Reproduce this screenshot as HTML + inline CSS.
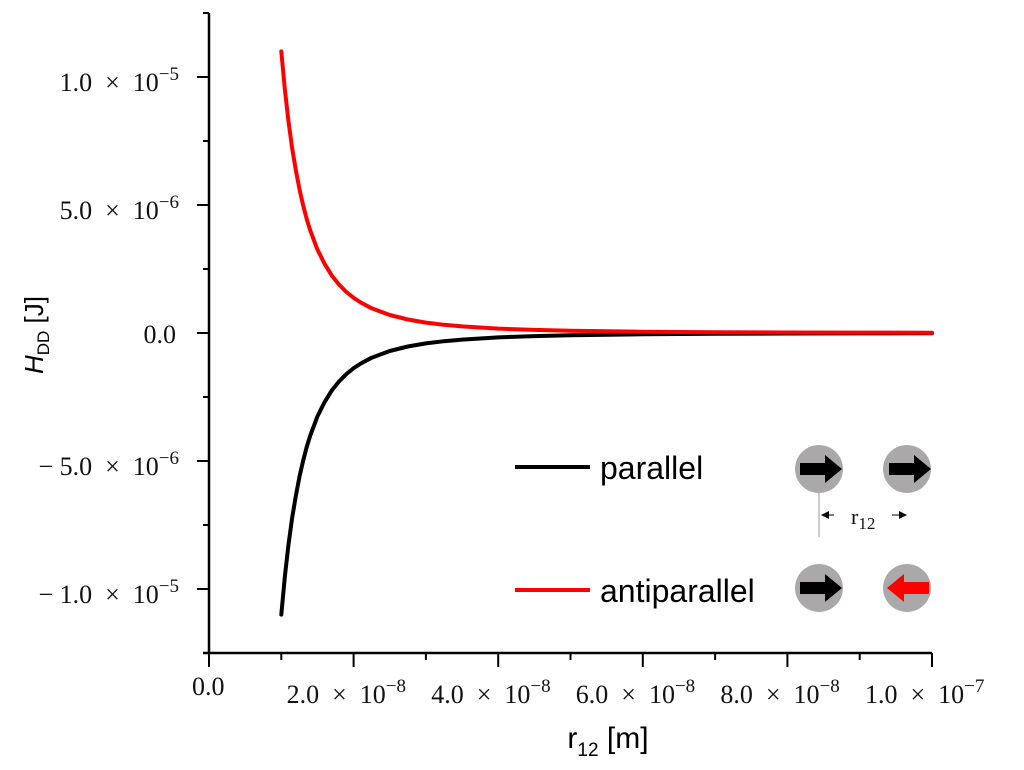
<!DOCTYPE html>
<html><head><meta charset="utf-8"><style>
body{margin:0;background:#fff}
svg{display:block}
.tk{font-family:"Liberation Serif",serif;font-size:26px;fill:#111}
.lg{font-family:"Liberation Sans",sans-serif;font-size:32px;fill:#000}
</style></head><body>
<svg id="chart" width="1024" height="770" xmlns="http://www.w3.org/2000/svg">
<g id="axes"></g>
<g id="series"></g>
<text x="0" y="0" transform="translate(43,335) rotate(-90)" text-anchor="middle" class="lg" style="font-size:26px"><tspan font-style="italic">H</tspan><tspan font-size="17" dy="6">DD</tspan><tspan dy="-6"> [J]</tspan></text>
<text x="608" y="748" text-anchor="middle" class="lg" style="font-size:30px">r<tspan font-size="19" dy="8">12</tspan><tspan dy="-8"> [m]</tspan></text>
<g>
<line x1="515" y1="467" x2="590" y2="467" stroke="#000" stroke-width="4"/>
<text x="600" y="479" class="lg">parallel</text>
<line x1="515" y1="590" x2="590" y2="590" stroke="#f00" stroke-width="4"/>
<text x="600" y="602" class="lg">antiparallel</text>
</g>
<g>
<circle cx="819" cy="469" r="24" fill="#aaa8a8"/>
<circle cx="907" cy="469" r="24" fill="#aaa8a8"/>
<circle cx="819" cy="588" r="24" fill="#aaa8a8"/>
<circle cx="907" cy="588" r="24" fill="#aaa8a8"/>
<polygon points="800,463 825,463 825,455 842,469 825,483 825,475 800,475" fill="#000"/>
<polygon points="889,463 914,463 914,455 931,469 914,483 914,475 889,475" fill="#000"/>
<polygon points="800,582 825,582 825,574 842,588 825,602 825,594 800,594" fill="#000"/>
<polygon points="929,582 904,582 904,574 887,588 904,602 904,594 929,594" fill="#f00"/>
<line x1="819" y1="493" x2="819" y2="537" stroke="#999" stroke-width="1"/>
<polygon points="821,515 829,511 829,519" fill="#000"/><line x1="827" y1="515" x2="834" y2="515" stroke="#000"/>
<polygon points="907,515 899,511 899,519" fill="#000"/><line x1="892" y1="515" x2="900" y2="515" stroke="#000"/>
<text x="851" y="524" class="tk" style="font-size:22px">r<tspan font-size="17" dy="5">12</tspan></text>
</g>
</svg>
<script>
const rValues=[1,1.05,1.1,1.15,1.2,1.25,1.3,1.35,1.4,1.5,1.6,1.7,1.8,1.9,2.0,2.1,2.25,2.5,2.75,3,3.25,3.5,4,4.5,5,6,7,8,9,10];
const antiparallelValues=[11.0,9.50,8.26,7.23,6.37,5.63,5.01,4.47,4.01,3.26,2.69,2.24,1.89,1.60,1.375,1.19,0.966,0.704,0.529,0.407,0.320,0.257,0.172,0.121,0.088,0.051,0.032,0.021,0.015,0.011];
const parallelValues=[-11.0,-9.50,-8.26,-7.23,-6.37,-5.63,-5.01,-4.47,-4.01,-3.26,-2.69,-2.24,-1.89,-1.60,-1.375,-1.19,-0.966,-0.704,-0.529,-0.407,-0.320,-0.257,-0.172,-0.121,-0.088,-0.051,-0.032,-0.021,-0.015,-0.011];
const xTickValues=[0,2,4,6,8,10];
const xTickLabels=["0.0","2.0","4.0","6.0","8.0","1.0"];
const xTickExps=["","−8","−8","−8","−8","−7"];
const yTickValues=[10,5,0,-5,-10];
const yTickLabels=["1.0","5.0","0.0","−\u00a05.0","−\u00a01.0"];
const yTickExps=["−5","−6","","−6","−5"];
const NS="http://www.w3.org/2000/svg";
const SEP="\u00a0\u00a0×\u00a0\u00a010";
const X=v=>209+v*72.3;
const Y=v=>333-v*25.6;
const axes=document.getElementById('axes'),series=document.getElementById('series');
function mk(tag,attrs,parent){const e=document.createElementNS(NS,tag);for(const k in attrs)e.setAttribute(k,attrs[k]);parent.appendChild(e);return e;}
let e=mk('line',{x1:209,y1:Y(12.5),x2:209,y2:Y(-12.5),stroke:'#000','stroke-width':2.5},axes);


e=mk('line',{x1:203,y1:Y(-12.5),x2:X(10),y2:Y(-12.5),stroke:'#000','stroke-width':2.5},axes);


for(let v=-12.5;v<=12.51;v+=2.5){const major=Math.abs(v%5)<0.01;mk('line',{x1:major?197:203,y1:Y(v),x2:209,y2:Y(v),stroke:'#000','stroke-width':2},axes);}
for(let v=0;v<=10.01;v+=1){const major=Math.abs(v%2)<0.01;mk('line',{x1:X(v),y1:Y(-12.5),x2:X(v),y2:Y(-12.5)+(major?14:7),stroke:'#000','stroke-width':2},axes);}
xTickValues.forEach((v,i)=>{const t=mk('text',{x:v===0?X(v)-17:X(v)-67,y:v===0?695:703,class:'tk'},axes);


t.textContent=xTickLabels[i]+(xTickExps[i]?SEP:'');
if(xTickExps[i]){const s=mk('tspan',{dy:-11,'font-size':19},t);s.textContent=xTickExps[i];}});
yTickValues.forEach((v,i)=>{const t=mk('text',{x:v===0?176:179,y:Y(v)+(v===0?10:14),class:'tk','text-anchor':'end'},axes);


t.textContent=yTickLabels[i]+(yTickExps[i]?SEP:'');
if(yTickExps[i]){const s=mk('tspan',{dy:-11,'font-size':19},t);s.textContent=yTickExps[i];}});
function line(vals,color,name){const d=rValues.map((r,i)=>(i?'L':'M')+X(r).toFixed(1)+','+Y(vals[i]).toFixed(1)).join(' ');
const p=mk('path',{d:d,fill:'none',stroke:color,'stroke-width':4,'stroke-linejoin':'round','stroke-linecap':'round'},series);

}
line(parallelValues,'#000','parallel-curve');
line(antiparallelValues,'#f00','antiparallel-curve');
</script>
</body></html>
